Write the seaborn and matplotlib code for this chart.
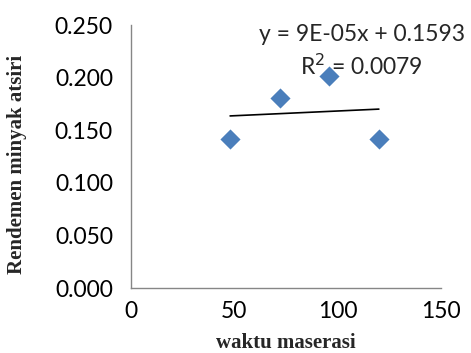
import numpy as np
import pandas as pd
import matplotlib
matplotlib.use("Agg")
import matplotlib.pyplot as plt
import seaborn as sns

# Maceration time (x) and essential-oil yield (y)
waktu = [48, 72, 96, 120]
rendemen = [0.142, 0.181, 0.202, 0.142]

# Linear trendline coefficients as reported on the chart
slope = 9e-05
intercept = 0.1593
r_squared = 0.0079

x_ticks = [0, 50, 100, 150]
y_ticks = [0.000, 0.050, 0.100, 0.150, 0.200, 0.250]

sns.set_theme(style="white")
plt.rcParams["font.family"] = ["Lato", "DejaVu Sans"]

df = pd.DataFrame({"waktu": waktu, "rendemen": rendemen})
trend = pd.DataFrame({"waktu": [min(waktu), max(waktu)]})
trend["fit"] = intercept + slope * trend["waktu"]

fig = plt.figure(figsize=(4.71, 3.53), dpi=100)
ax = fig.add_axes([0.278, 0.184, 0.658, 0.745])

sns.scatterplot(data=df, x="waktu", y="rendemen", marker="D", s=105,
                color="#4a7ebb", edgecolor="#4a7ebb", linewidth=0, ax=ax,
                zorder=3)
sns.lineplot(data=trend, x="waktu", y="fit", color="black", linewidth=1.2,
             ax=ax, zorder=2)

ax.set_xlim(0, 150)
ax.set_ylim(0, 0.25)
ax.set_xticks(x_ticks)
ax.set_yticks(y_ticks)
ax.set_xticklabels([str(t) for t in x_ticks])
ax.set_yticklabels([f"{t:.3f}" for t in y_ticks])
ax.tick_params(axis="both", length=0, labelsize=16.5, colors="black")
ax.tick_params(axis="y", pad=13)
ax.tick_params(axis="x", pad=9)

for side in ["top", "right"]:
    ax.spines[side].set_visible(False)
for side in ["left", "bottom"]:
    ax.spines[side].set_color("#868686")
    ax.spines[side].set_linewidth(1.0)

ax.set_xlabel("waktu maserasi", family="Liberation Serif", fontweight="bold",
              fontsize=15)
ax.set_ylabel("Rendemen minyak atsiri", family="Liberation Serif",
              fontweight="bold", fontsize=15)
ax.xaxis.set_label_coords(0.5, -0.172)
ax.yaxis.set_label_coords(-0.335, 0.47)

eq_x = 0.745
ax.text(eq_x, 0.965, f"y = {slope:.0E}x + {intercept}",
        transform=ax.transAxes, ha="center", va="center", fontsize=16.5)
ax.text(eq_x, 0.845, f"R$^2$ = {r_squared}", transform=ax.transAxes,
        ha="center", va="center", fontsize=16.5)

fig.savefig("out.png", dpi=100)
